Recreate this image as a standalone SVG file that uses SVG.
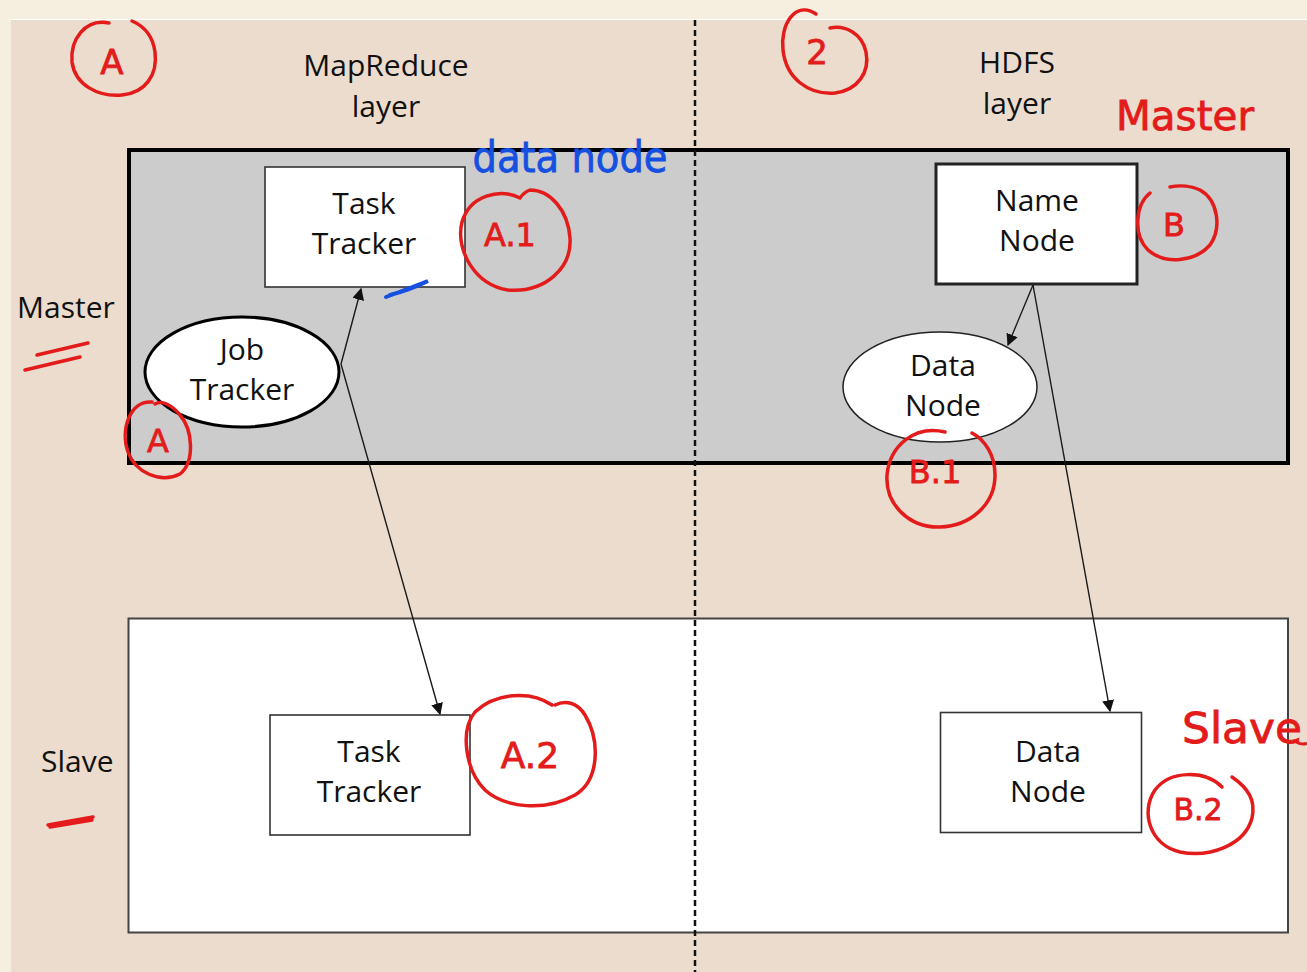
<svg xmlns="http://www.w3.org/2000/svg" width="1307" height="972" viewBox="0 0 1307 972">
<defs>
<style>
.lbl{font-family:"Open Sans","Noto Sans","Liberation Sans",sans-serif;font-size:30px;fill:#111111;text-anchor:middle}
.side{font-family:"Open Sans","Noto Sans","Liberation Sans",sans-serif;font-size:30px;fill:#111111}
.box{fill:#ffffff;stroke:#333333;stroke-width:1.6}
.conn{stroke:#1a1a1a;stroke-width:1.4;fill:none}
.red{fill:none;stroke:#e31b1b;stroke-width:3.5;stroke-linecap:round;stroke-linejoin:round}
.redt{font-family:"DejaVu Sans","Liberation Sans",sans-serif;fill:#e31b1b;stroke:#e31b1b;stroke-width:0.8}
.bluet{font-family:"DejaVu Sans","Liberation Sans",sans-serif;fill:#1550e0;stroke:#1550e0;stroke-width:0.8}
</style>
<marker id="arr" viewBox="0 0 10 10" refX="9" refY="5" markerWidth="12" markerHeight="12" markerUnits="userSpaceOnUse" orient="auto">
<path d="M0,0 L10,5 L0,10 z" fill="#111"/>
</marker>
</defs>
<rect x="0" y="0" width="1307" height="972" fill="#f6efdf"/>
<rect x="11" y="20" width="1296" height="952" fill="#ecdccd"/>
<line x1="11" y1="19.5" x2="1307" y2="19.5" stroke="#ffffff" stroke-width="1"/>

<g id="master-region">
<rect x="129" y="150" width="1159" height="313" fill="#cccccc" stroke="#000" stroke-width="4"/>
</g>
<g id="slave-region">
<rect x="128.5" y="618.5" width="1159.5" height="314" fill="#ffffff" stroke="#444" stroke-width="2"/>
</g>
<g id="divider">
<line x1="695" y1="20" x2="695" y2="972" stroke="#111" stroke-width="2.5" stroke-dasharray="6,4"/>
</g>

<g id="layer-labels">
<text class="lbl" x="386" y="76">MapReduce</text>
<text class="lbl" x="386" y="117">layer</text>
<text class="lbl" x="1017" y="73">HDFS</text>
<text class="lbl" x="1017" y="114">layer</text>
<text class="side" x="17" y="318">Master</text>
<text class="side" x="41" y="772">Slave</text>
</g>

<g id="connectors">
<line class="conn" x1="341" y1="364" x2="361" y2="289" marker-end="url(#arr)"/>
<line class="conn" x1="341" y1="364" x2="440" y2="714" marker-end="url(#arr)"/>
<line class="conn" x1="1033" y1="285" x2="1008" y2="345" marker-end="url(#arr)"/>
<line class="conn" x1="1033" y1="285" x2="1110" y2="711" marker-end="url(#arr)"/>
</g>

<g id="task-tracker-master">
<rect class="box" x="265" y="167" width="200" height="120"/>
<text class="lbl" x="364" y="214">Task</text>
<text class="lbl" x="364" y="254">Tracker</text>
</g>
<g id="job-tracker">
<ellipse cx="242" cy="372" rx="97" ry="55" fill="#fff" stroke="#000" stroke-width="3"/>
<text class="lbl" x="242" y="360">Job</text>
<text class="lbl" x="242" y="400">Tracker</text>
</g>
<g id="name-node">
<rect x="936" y="164" width="201" height="120" fill="#fff" stroke="#222" stroke-width="3"/>
<text class="lbl" x="1037" y="211">Name</text>
<text class="lbl" x="1037" y="251">Node</text>
</g>
<g id="data-node-master">
<ellipse cx="940" cy="387" rx="97" ry="55" fill="#fff" stroke="#222" stroke-width="1.5"/>
<text class="lbl" x="943" y="376">Data</text>
<text class="lbl" x="943" y="416">Node</text>
</g>
<g id="task-tracker-slave">
<rect class="box" x="270" y="715" width="200" height="120"/>
<text class="lbl" x="369" y="762">Task</text>
<text class="lbl" x="369" y="802">Tracker</text>
</g>
<g id="data-node-slave">
<rect class="box" x="940.5" y="712.5" width="201" height="120"/>
<text class="lbl" x="1048" y="762">Data</text>
<text class="lbl" x="1048" y="802">Node</text>
</g>

<g id="annotations">
<path class="red" d="M109,23 C85,18 70,40 72,62 C75,85 98,97 122,95 C145,93 158,75 155,52 C153,37 146,27 132,21"/>
<text class="redt" x="112" y="74" font-size="34" text-anchor="middle">A</text>
<path class="red" d="M816,14 C795,0 780,25 783,50 C786,78 808,95 835,93 C858,90 870,72 866,52 C862,33 845,25 830,28"/>
<text class="redt" x="817" y="64" font-size="34" text-anchor="middle">2</text>
<text class="redt" x="1185" y="130" font-size="40" text-anchor="middle" textLength="138" lengthAdjust="spacingAndGlyphs">Master</text>
<text class="bluet" x="570" y="172" font-size="42" text-anchor="middle" textLength="195" lengthAdjust="spacingAndGlyphs">data node</text>
<path d="M386,297 C402,291 418,285 428,281 C418,286 402,292 390,295" fill="none" stroke="#1550e0" stroke-width="4" stroke-linecap="round"/>
<path class="red" d="M520,198 C500,188 470,195 462,222 C455,250 475,285 508,290 C545,293 572,268 570,238 C568,210 550,190 530,190 C525,192 522,195 520,198"/>
<text class="redt" x="510" y="246" font-size="32" text-anchor="middle">A.1</text>
<path class="red" d="M37,355 L88,343 M25,370 L80,357"/>
<path class="red" d="M152,402 C130,400 120,430 128,452 C135,472 160,484 180,474 C195,462 193,430 180,415 C172,405 162,400 155,404"/>
<text class="redt" x="158" y="452" font-size="32" text-anchor="middle">A</text>
<path class="red" d="M1150,193 C1135,205 1133,235 1148,250 C1165,265 1195,262 1210,245 C1222,228 1218,200 1200,190 C1192,186 1180,185 1170,187"/>
<text class="redt" x="1174" y="236" font-size="32" text-anchor="middle">B</text>
<path class="red" d="M945,432 C915,425 890,445 887,475 C885,505 910,528 940,527 C970,526 995,505 995,475 C995,455 985,440 972,433"/>
<text class="redt" x="935" y="483" font-size="32" text-anchor="middle">B.1</text>
<path class="red" d="M552,705 C530,690 495,693 475,712 C460,730 465,770 485,790 C505,808 545,812 575,795 C600,780 600,740 585,715 C577,702 565,700 555,705"/>
<text class="redt" x="530" y="768" font-size="36" text-anchor="middle">A.2</text>
<text class="redt" x="1242" y="743" font-size="42" text-anchor="middle" textLength="120" lengthAdjust="spacingAndGlyphs">Slave</text>
<path d="M1296,742 C1300,744 1304,745 1307,743" fill="none" stroke="#e31b1b" stroke-width="3"/>
<path class="red" d="M1222,787 C1205,770 1170,770 1155,790 C1140,812 1150,845 1180,852 C1210,858 1245,845 1252,818 C1256,800 1248,788 1232,777"/>
<text class="redt" x="1198" y="820" font-size="30" text-anchor="middle">B.2</text>
<path class="red" d="M48,825 L93,817 M50,827 L92,820"/>
</g>
</svg>
